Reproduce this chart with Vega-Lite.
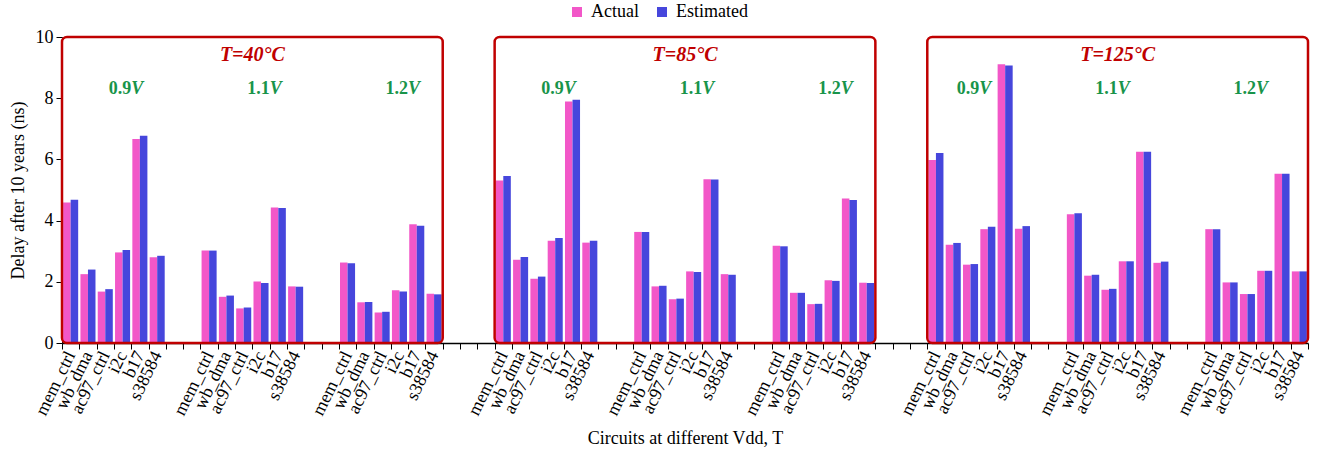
{
  "$schema": "https://vega.github.io/schema/vega-lite/v6.json",
  "width": 1246,
  "height": 306,
  "autosize": "none",
  "padding": {"left": 62, "top": 37, "right": 10, "bottom": 113},
  "config": {
    "font": "Liberation Serif",
    "view": {"stroke": null},
    "axis": {"labelColor": "black", "titleColor": "black", "labelFont": "Liberation Serif", "titleFont": "Liberation Serif", "titleFontWeight": "normal"},
    "axisY": {"tickCount": 10, "labelOverlap": false, "values": [0, 1, 2, 3, 4, 5, 6, 7, 8, 9, 10]},
    "legend": {"labelFont": "Liberation Serif", "labelColor": "black"}
  },
  "datasets": {
    "bars": [
      {"k": "40|0.9|mem_ctrl", "Actual": 4.59, "Estimated": 4.68},
      {"k": "40|0.9|wb_dma", "Actual": 2.25, "Estimated": 2.40},
      {"k": "40|0.9|ac97_ctrl", "Actual": 1.68, "Estimated": 1.76},
      {"k": "40|0.9|i2c", "Actual": 2.96, "Estimated": 3.04},
      {"k": "40|0.9|b17", "Actual": 6.67, "Estimated": 6.77},
      {"k": "40|0.9|s38584", "Actual": 2.80, "Estimated": 2.85},
      {"k": "40|1.1|mem_ctrl", "Actual": 3.02, "Estimated": 3.02},
      {"k": "40|1.1|wb_dma", "Actual": 1.51, "Estimated": 1.55},
      {"k": "40|1.1|ac97_ctrl", "Actual": 1.13, "Estimated": 1.16},
      {"k": "40|1.1|i2c", "Actual": 2.01, "Estimated": 1.96},
      {"k": "40|1.1|b17", "Actual": 4.43, "Estimated": 4.41},
      {"k": "40|1.1|s38584", "Actual": 1.85, "Estimated": 1.84},
      {"k": "40|1.2|mem_ctrl", "Actual": 2.63, "Estimated": 2.61},
      {"k": "40|1.2|wb_dma", "Actual": 1.33, "Estimated": 1.34},
      {"k": "40|1.2|ac97_ctrl", "Actual": 1.00, "Estimated": 1.02},
      {"k": "40|1.2|i2c", "Actual": 1.72, "Estimated": 1.68},
      {"k": "40|1.2|b17", "Actual": 3.88, "Estimated": 3.83},
      {"k": "40|1.2|s38584", "Actual": 1.61, "Estimated": 1.59},
      {"k": "85|0.9|mem_ctrl", "Actual": 5.31, "Estimated": 5.46},
      {"k": "85|0.9|wb_dma", "Actual": 2.72, "Estimated": 2.81},
      {"k": "85|0.9|ac97_ctrl", "Actual": 2.10, "Estimated": 2.17},
      {"k": "85|0.9|i2c", "Actual": 3.34, "Estimated": 3.43},
      {"k": "85|0.9|b17", "Actual": 7.89, "Estimated": 7.95},
      {"k": "85|0.9|s38584", "Actual": 3.28, "Estimated": 3.34},
      {"k": "85|1.1|mem_ctrl", "Actual": 3.63, "Estimated": 3.63},
      {"k": "85|1.1|wb_dma", "Actual": 1.85, "Estimated": 1.87},
      {"k": "85|1.1|ac97_ctrl", "Actual": 1.43, "Estimated": 1.45},
      {"k": "85|1.1|i2c", "Actual": 2.34, "Estimated": 2.32},
      {"k": "85|1.1|b17", "Actual": 5.35, "Estimated": 5.34},
      {"k": "85|1.1|s38584", "Actual": 2.25, "Estimated": 2.23},
      {"k": "85|1.2|mem_ctrl", "Actual": 3.18, "Estimated": 3.16},
      {"k": "85|1.2|wb_dma", "Actual": 1.64, "Estimated": 1.64},
      {"k": "85|1.2|ac97_ctrl", "Actual": 1.27, "Estimated": 1.28},
      {"k": "85|1.2|i2c", "Actual": 2.05, "Estimated": 2.03},
      {"k": "85|1.2|b17", "Actual": 4.72, "Estimated": 4.67},
      {"k": "85|1.2|s38584", "Actual": 1.97, "Estimated": 1.96},
      {"k": "125|0.9|mem_ctrl", "Actual": 5.98, "Estimated": 6.21},
      {"k": "125|0.9|wb_dma", "Actual": 3.21, "Estimated": 3.27},
      {"k": "125|0.9|ac97_ctrl", "Actual": 2.56, "Estimated": 2.58},
      {"k": "125|0.9|i2c", "Actual": 3.72, "Estimated": 3.80},
      {"k": "125|0.9|b17", "Actual": 9.11, "Estimated": 9.07},
      {"k": "125|0.9|s38584", "Actual": 3.73, "Estimated": 3.82},
      {"k": "125|1.1|mem_ctrl", "Actual": 4.21, "Estimated": 4.24},
      {"k": "125|1.1|wb_dma", "Actual": 2.20, "Estimated": 2.23},
      {"k": "125|1.1|ac97_ctrl", "Actual": 1.74, "Estimated": 1.77},
      {"k": "125|1.1|i2c", "Actual": 2.67, "Estimated": 2.67},
      {"k": "125|1.1|b17", "Actual": 6.25, "Estimated": 6.25},
      {"k": "125|1.1|s38584", "Actual": 2.62, "Estimated": 2.66},
      {"k": "125|1.2|mem_ctrl", "Actual": 3.72, "Estimated": 3.72},
      {"k": "125|1.2|wb_dma", "Actual": 1.98, "Estimated": 1.98},
      {"k": "125|1.2|ac97_ctrl", "Actual": 1.60, "Estimated": 1.60},
      {"k": "125|1.2|i2c", "Actual": 2.36, "Estimated": 2.36},
      {"k": "125|1.2|b17", "Actual": 5.53, "Estimated": 5.53},
      {"k": "125|1.2|s38584", "Actual": 2.34, "Estimated": 2.34}
    ],
    "panels": [
      {"a": "40|0.9|mem_ctrl", "b": "40|1.2|s38584", "m": "40|1.1|i2c", "title": "T=40°C"},
      {"a": "85|0.9|mem_ctrl", "b": "85|1.2|s38584", "m": "85|1.1|i2c", "title": "T=85°C"},
      {"a": "125|0.9|mem_ctrl", "b": "125|1.2|s38584", "m": "125|1.1|i2c", "title": "T=125°C"}
    ],
    "vlabels": [
      {"k": "40|0.9|i2c", "num": "0.9", "unit": "V"},
      {"k": "40|1.1|i2c", "num": "1.1", "unit": "V"},
      {"k": "40|1.2|i2c", "num": "1.2", "unit": "V"},
      {"k": "85|0.9|i2c", "num": "0.9", "unit": "V"},
      {"k": "85|1.1|i2c", "num": "1.1", "unit": "V"},
      {"k": "85|1.2|i2c", "num": "1.2", "unit": "V"},
      {"k": "125|0.9|ac97_ctrl", "num": "0.9", "unit": "V"},
      {"k": "125|1.1|ac97_ctrl", "num": "1.1", "unit": "V"},
      {"k": "125|1.2|ac97_ctrl", "num": "1.2", "unit": "V"}
    ]
  },
  "layer": [
    {
      "data": {"name": "bars"},
      "transform": [{"fold": ["Actual", "Estimated"], "as": ["Series", "Delay"]}],
      "mark": {"type": "bar"},
      "encoding": {
        "x": {
          "field": "k",
          "type": "nominal",
          "title": "Circuits at different Vdd, T",
          "scale": {
            "paddingInner": 0,
            "paddingOuter": 0,
            "domain": [
              "40|0.9|mem_ctrl", "40|0.9|wb_dma", "40|0.9|ac97_ctrl", "40|0.9|i2c", "40|0.9|b17", "40|0.9|s38584", "g1", "g2",
              "40|1.1|mem_ctrl", "40|1.1|wb_dma", "40|1.1|ac97_ctrl", "40|1.1|i2c", "40|1.1|b17", "40|1.1|s38584", "g3", "g4",
              "40|1.2|mem_ctrl", "40|1.2|wb_dma", "40|1.2|ac97_ctrl", "40|1.2|i2c", "40|1.2|b17", "40|1.2|s38584", "g5", "g6", "g7",
              "85|0.9|mem_ctrl", "85|0.9|wb_dma", "85|0.9|ac97_ctrl", "85|0.9|i2c", "85|0.9|b17", "85|0.9|s38584", "g8", "g9",
              "85|1.1|mem_ctrl", "85|1.1|wb_dma", "85|1.1|ac97_ctrl", "85|1.1|i2c", "85|1.1|b17", "85|1.1|s38584", "g10", "g11",
              "85|1.2|mem_ctrl", "85|1.2|wb_dma", "85|1.2|ac97_ctrl", "85|1.2|i2c", "85|1.2|b17", "85|1.2|s38584", "g12", "g13", "g14",
              "125|0.9|mem_ctrl", "125|0.9|wb_dma", "125|0.9|ac97_ctrl", "125|0.9|i2c", "125|0.9|b17", "125|0.9|s38584", "g15", "g16",
              "125|1.1|mem_ctrl", "125|1.1|wb_dma", "125|1.1|ac97_ctrl", "125|1.1|i2c", "125|1.1|b17", "125|1.1|s38584", "g17", "g18",
              "125|1.2|mem_ctrl", "125|1.2|wb_dma", "125|1.2|ac97_ctrl", "125|1.2|i2c", "125|1.2|b17", "125|1.2|s38584"
            ]
          },
          "axis": {
            "labelExpr": "split('' + datum.label + '||', '|')[2]",
            "labelAngle": -64,
            "labelAlign": "right",
            "labelBaseline": "middle",
            "labelFontSize": 18,
            "labelOverlap": false,
            "labelBound": false,
            "labelPadding": 3,
            "tickBand": "extent",
            "tickSize": 6,
            "tickColor": "black",
            "domainColor": "black",
            "domainWidth": 1.5,
            "titleFontSize": 18,
            "titlePadding": 12,
            "zindex": 0
          }
        },
        "xOffset": {"field": "Series", "type": "nominal", "scale": {"paddingInner": 0, "paddingOuter": 0.15}},
        "y": {
          "field": "Delay",
          "type": "quantitative",
          "stack": null,
          "scale": {"domain": [0, 10], "nice": false},
          "axis": {
            "title": "Delay after 10 years (ns)",
            "values": [0, 1, 2, 3, 4, 5, 6, 7, 8, 9, 10],
            "labelOverlap": false,
            "grid": false,
            "tickSize": 6,
            "tickColor": "black",
            "domainColor": "black",
            "labelFontSize": 18,
            "labelPadding": 3,
            "titleFontSize": 18,
            "titlePadding": 8,
            "zindex": 0
          }
        },
        "color": {
          "field": "Series",
          "type": "nominal",
          "scale": {"domain": ["Actual", "Estimated"], "range": ["#F257C8", "#4646DC"]},
          "legend": {
            "title": null,
            "orient": "none",
            "legendX": 506,
            "legendY": -34,
            "direction": "horizontal",
            "symbolType": "square",
            "symbolSize": 100,
            "symbolStrokeWidth": 0,
            "labelFontSize": 18,
            "labelOffset": 5,
            "columnPadding": 14,
            "padding": 0
          }
        }
      }
    },
    {
      "data": {"name": "panels"},
      "mark": {"type": "rect", "filled": false, "stroke": "#C00000", "strokeWidth": 2.5, "cornerRadius": 5},
      "encoding": {
        "x": {"field": "a", "type": "nominal", "bandPosition": 0},
        "x2": {"field": "b", "bandPosition": 1},
        "y": {"datum": 10, "type": "quantitative"},
        "y2": {"datum": 0}
      }
    },
    {
      "data": {"name": "panels"},
      "mark": {"type": "text", "fontSize": 20, "fontWeight": "bold", "fontStyle": "italic", "color": "#C00000", "baseline": "middle", "align": "center"},
      "encoding": {
        "x": {"field": "m", "type": "nominal", "bandPosition": 0},
        "y": {"datum": 9.42, "type": "quantitative"},
        "text": {"field": "title"}
      }
    },
    {
      "data": {"name": "vlabels"},
      "mark": {"type": "text", "fontSize": 18, "fontWeight": "bold", "color": "#18944A", "baseline": "middle", "align": "right"},
      "encoding": {
        "x": {"field": "k", "type": "nominal", "bandPosition": 1},
        "y": {"datum": 8.31, "type": "quantitative"},
        "text": {"field": "num"}
      }
    },
    {
      "data": {"name": "vlabels"},
      "mark": {"type": "text", "fontSize": 18, "fontWeight": "bold", "fontStyle": "italic", "color": "#18944A", "baseline": "middle", "align": "left"},
      "encoding": {
        "x": {"field": "k", "type": "nominal", "bandPosition": 1},
        "y": {"datum": 8.31, "type": "quantitative"},
        "text": {"field": "unit"}
      }
    }
  ]
}
